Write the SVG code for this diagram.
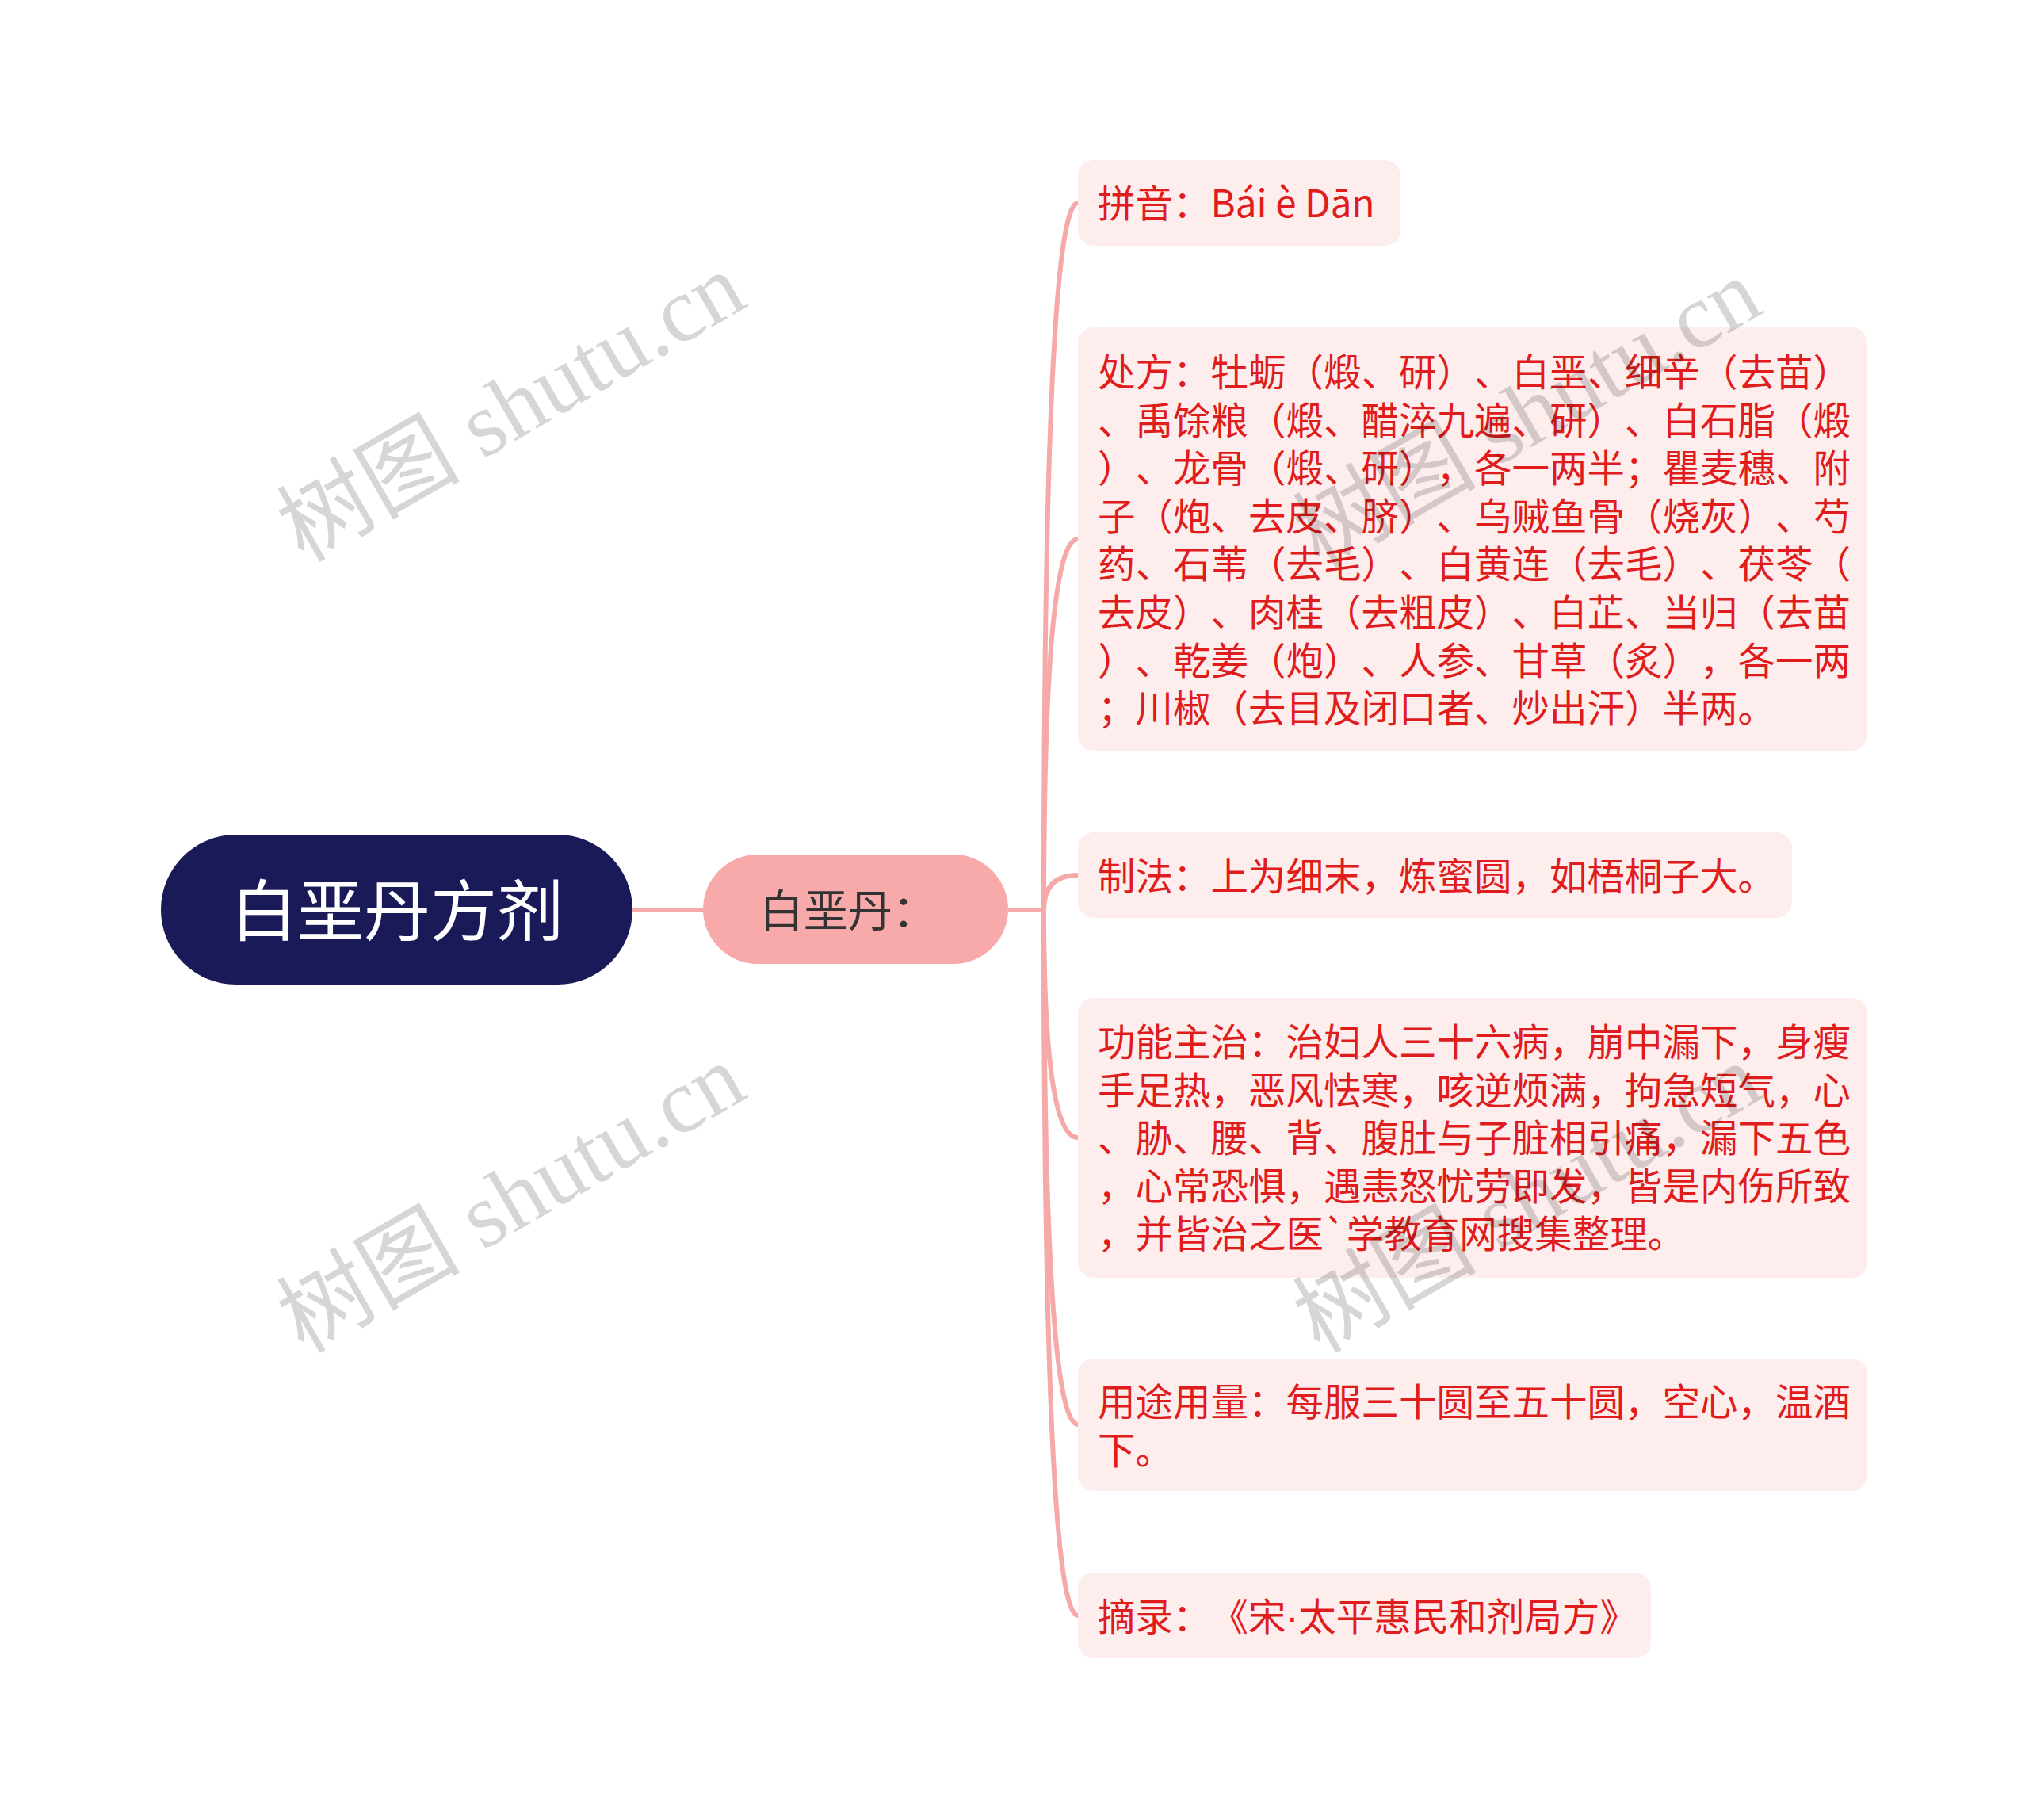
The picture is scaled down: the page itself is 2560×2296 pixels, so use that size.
<svg xmlns="http://www.w3.org/2000/svg" width="2560" height="2296" viewBox="0 0 2560 2296">
<style>
text{text-spacing-trim:space-all;font-kerning:none;}
.leaf rect{fill:#fdeded;}
.leaf text{font-family:"Noto Sans CJK SC","Microsoft YaHei",sans-serif;font-size:47.5px;fill:#e01c1c;}
.conn path{fill:none;stroke:#f5a9a9;stroke-width:6;}
.wm{font-family:"Liberation Serif","Noto Sans CJK SC",serif;font-size:116px;fill:#000;fill-opacity:0.16;}
.lat{font-family:"Liberation Sans",sans-serif;}
</style>
<rect width="2560" height="2296" fill="#ffffff"/>
<g id="connectors" class="conn">
<path d="M798 1148 H887"/>
<path d="M1272 1148 H1317 Q1317 256 1360 256"/>
<path d="M1272 1148 H1317 Q1317 680 1360 680"/>
<path d="M1272 1148 H1317 Q1317 1104 1360 1104"/>
<path d="M1272 1148 H1317 Q1317 1435 1360 1435"/>
<path d="M1272 1148 H1317 Q1317 1797 1360 1797"/>
<path d="M1272 1148 H1317 Q1317 2038 1360 2038"/>
</g>
<g id="root">
<rect x="203" y="1053" width="595" height="189" rx="94.5" fill="#1b1a59"/>
<text x="501" y="1180" text-anchor="middle" font-family="Noto Sans CJK SC, sans-serif" font-size="84" fill="#ffffff">白垩丹方剂</text>
</g>
<g id="child">
<rect x="887" y="1078" width="385" height="138" rx="69" fill="#f8aaaa"/>
<text x="958" y="1169" font-family="Noto Sans CJK SC, sans-serif" font-size="56" fill="#333333">白垩丹：</text>
</g>
<g id="leaf-pinyin" class="leaf">
<rect x="1360" y="202" width="407" height="108" rx="20"/>
<text x="1385" y="274">拼音：Bái è Dān</text>
</g>
<g id="leaf-chufang" class="leaf">
<rect x="1360" y="413" width="996" height="534" rx="20"/>
<text x="1385" y="487">处方：牡蛎（煅、研）、白垩、细辛（去苗）</text>
<text x="1385" y="547.6">、禹馀粮（煅、醋淬九遍、研）、白石脂（煅</text>
<text x="1385" y="608.2">）、龙骨（煅、研），各一两半；瞿麦穗、附</text>
<text x="1385" y="668.8">子（炮、去皮、脐）、乌贼鱼骨（烧灰）、芍</text>
<text x="1385" y="729.4">药、石苇（去毛）、白黄连（去毛）、茯苓（</text>
<text x="1385" y="790">去皮）、肉桂（去粗皮）、白芷、当归（去苗</text>
<text x="1385" y="850.6">）、乾姜（炮）、人参、甘草（炙），各一两</text>
<text x="1385" y="911.2">；川椒（去目及闭口者、炒出汗）半两。</text>
</g>
<g id="leaf-zhifa" class="leaf">
<rect x="1360" y="1050" width="901" height="108" rx="20"/>
<text x="1385" y="1123">制法：上为细末，炼蜜圆，如梧桐子大。</text>
</g>
<g id="leaf-gongneng" class="leaf">
<rect x="1360" y="1259" width="996" height="353" rx="20"/>
<text x="1385" y="1332">功能主治：治妇人三十六病，崩中漏下，身瘦</text>
<text x="1385" y="1392.6">手足热，恶风怯寒，咳逆烦满，拘急短气，心</text>
<text x="1385" y="1453.2">、胁、腰、背、腹肚与子脏相引痛，漏下五色</text>
<text x="1385" y="1513.8">，心常恐惧，遇恚怒忧劳即发，皆是内伤所致</text>
<text x="1385" y="1574.4">，并皆治之医`学教育网搜集整理。</text>
</g>
<g id="leaf-yongtu" class="leaf">
<rect x="1360" y="1714" width="996" height="167" rx="20"/>
<text x="1385" y="1786">用途用量：每服三十圆至五十圆，空心，温酒</text>
<text x="1385" y="1847">下。</text>
</g>
<g id="leaf-zhailu" class="leaf">
<rect x="1360" y="1984" width="723" height="108" rx="20"/>
<text x="1385" y="2057">摘录：《宋<tspan class="lat">·</tspan>太平惠民和剂局方》</text>
</g>
<g id="watermarks">
<text class="wm" x="645" y="514" text-anchor="middle" dominant-baseline="central" transform="rotate(-30 645 514)">树图 shutu.cn</text>
<text class="wm" x="645" y="1512" text-anchor="middle" dominant-baseline="central" transform="rotate(-30 645 1512)">树图 shutu.cn</text>
<text class="wm" x="1927" y="522" text-anchor="middle" dominant-baseline="central" transform="rotate(-30 1927 522)">树图 shutu.cn</text>
<text class="wm" x="1927" y="1512" text-anchor="middle" dominant-baseline="central" transform="rotate(-30 1927 1512)">树图 shutu.cn</text>
</g>
</svg>
